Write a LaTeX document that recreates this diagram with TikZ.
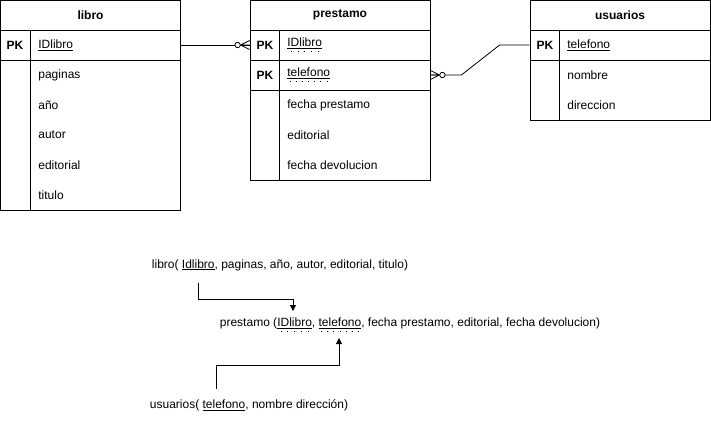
\documentclass[tikz,border=0pt]{standalone}
\usepackage{fontspec}
\setmainfont{Liberation Sans}
\usetikzlibrary{calc,arrows.meta}
\newcommand\fkul[1]{\leavevmode\setbox0\hbox{#1}\rlap{\raisebox{-5pt}{\hbox to \wd0{\xleaders\hbox to 6pt{\hss\rule{0.9pt}{0.9pt}\hss}\hfill}}}\underline{#1}}
\begin{document}
\begin{tikzpicture}[x=1pt,y=-1pt,line width=0.8pt,
  every node/.style={font=\fontsize{12}{14}\selectfont},
  cell/.style={draw,minimum height=30pt,minimum width=180pt,inner sep=0pt},
  hdr/.style={cell,font=\fontsize{12}{14}\selectfont\bfseries},
  pk/.style={font=\fontsize{12}{14}\selectfont\bfseries,inner sep=0pt},
  fld/.style={anchor=west,inner sep=0pt},
  arr/.style={-{Triangle[length=6pt,width=6pt]}},
  pics/zmany/.style={code={
    \draw (-9,0)--(0,4.5) (-9,0)--(0,-4.5) (-9,0)--(0,0);
    \draw[fill=white] (-12,0) circle (2.7);}}]
\useasboundingbox (0,0) rectangle (711,421);
% ---- libro ----
\node[hdr] (libro) at (90.5,15) {libro};
\node[cell] (libro-pk) at (90.5,45) {};
\node[cell,minimum height=150pt] (libro-body) at (90.5,135) {};
\draw ([xshift=30pt]libro-pk.north west) -- ([xshift=30pt]libro-body.south west);
\node[pk] (libro-pkl) at (15,45) {PK};
\node[fld] (libro-f0) at (38,45) {\underline{IDlibro}};
\node[fld] (libro-f1) at (38,75) {paginas};
\node[fld] (libro-f2) at (38,105) {año};
\node[fld] (libro-f3) at (38,135) {autor};
\node[fld] (libro-f4) at (38,165) {editorial};
\node[fld] (libro-f5) at (38,195) {titulo};
% ---- prestamo ----
\node[hdr] (prestamo) at (340,15) {prestamo};
\node[cell] (prestamo-id) at (340,45) {};
\node[cell] (prestamo-tel) at (340,75) {};
\node[cell,minimum height=90pt] (prestamo-body) at (340,135) {};
\draw ([xshift=30pt]prestamo-id.north west) -- ([xshift=30pt]prestamo-body.south west);
\node[pk] (prestamo-pk1) at (265,45) {PK};
\node[pk] (prestamo-pk2) at (265,75) {PK};
\node[fld] (prestamo-f0) at (287,45) {\fkul{IDlibro}};
\node[fld] (prestamo-f1) at (287,75) {\fkul{telefono}};
\node[fld] (prestamo-f2) at (287,105) {fecha prestamo};
\node[fld] (prestamo-f3) at (287,135) {editorial};
\node[fld] (prestamo-f4) at (287,165) {fecha devolucion};
% ---- usuarios ----
\node[hdr] (usuarios) at (620,15) {usuarios};
\node[cell] (usuarios-pk) at (620,45) {};
\node[cell,minimum height=60pt] (usuarios-body) at (620,90) {};
\draw ([xshift=30pt]usuarios-pk.north west) -- ([xshift=30pt]usuarios-body.south west);
\node[pk] (usuarios-pkl) at (545,45) {PK};
\node[fld] (usuarios-f0) at (567,45) {\underline{telefono}};
\node[fld] (usuarios-f1) at (567,75) {nombre};
\node[fld] (usuarios-f2) at (567,105) {direccion};
% ---- relations ----
\draw (libro-pk.east) -- (prestamo-id.west);
\pic at (prestamo-id.west) {zmany};
\draw (prestamo-tel.east) -- ++(31,0) -- ($(usuarios-pk.west)+(-30,0)$) -- (usuarios-pk.west);
\pic[rotate=180] at (prestamo-tel.east) {zmany};
% ---- relational schema ----
\node (t1) at (280,265) {libro( \underline{Idlibro}, paginas, año, autor, editorial, titulo)};
\node (t2) at (410,325) {prestamo (\fkul{IDlibro}, \fkul{telefono}, fecha prestamo, editorial, fecha devolucion)};
\node (t3) at (249,405) {usuarios( \underline{telefono}, nombre dirección)};
\coordinate (a1s) at (198,283);
\coordinate (a1e) at (293,311);
\coordinate (a2s) at (216,389);
\coordinate (a2e) at (339,338);
\draw[arr] (a1s) -- ++(0,16) -| (a1e);
\draw[arr] (a2s) -- ++(0,-24) -| (a2e);
\end{tikzpicture}
\end{document}
